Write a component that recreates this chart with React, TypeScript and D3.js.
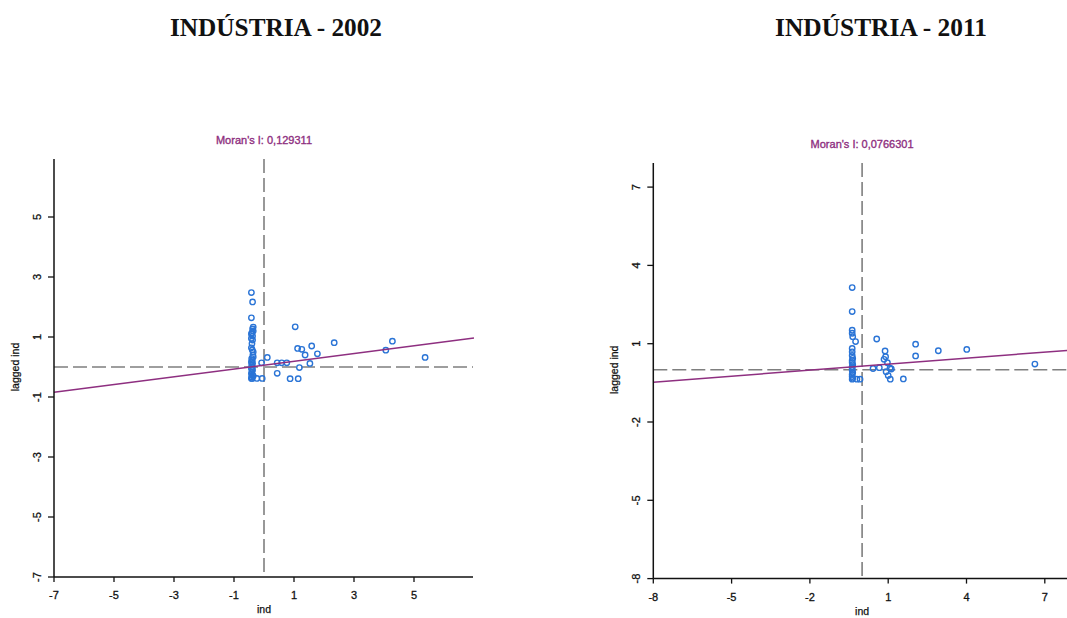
import React from "react";
import * as d3 from "d3";

// ---- data ----
const ind2002 = [-0.42,-0.38,-0.42,-0.36,-0.38,-0.40,-0.42,-0.38,-0.38,-0.42,-0.39,-0.37,-0.41,-0.39,-0.42,-0.38,-0.41,-0.39,-0.42,-0.38,-0.40,-0.42,-0.38,-0.41,-0.39,-0.42,-0.36,-0.40,-0.36,-0.36,-0.42,-0.36,-0.24,-0.06,-0.08,0.11,0.44,0.59,0.76,0.44,0.87,1.14,1.04,1.12,1.26,1.37,1.59,1.78,1.53,1.18,2.34,4.06,4.28,5.37];
const lag2002 = [2.48,2.17,1.64,1.33,1.27,1.14,1.10,1.03,0.90,0.64,0.57,0.40,0.28,0.22,0.17,0.12,0.06,0.00,-0.05,-0.10,-0.16,-0.22,-0.27,-0.33,-0.38,-0.38,0.50,0.78,-0.30,0.33,0.95,1.20,-0.38,-0.38,0.14,0.32,0.14,0.14,0.14,-0.21,-0.39,-0.39,1.34,0.62,0.59,0.40,0.70,0.44,0.12,-0.02,0.81,0.56,0.86,0.32];

const ind2011 = [-0.38,-0.38,-0.38,-0.38,-0.36,-0.25,-0.38,-0.38,-0.38,-0.36,-0.38,-0.38,-0.36,-0.38,-0.38,-0.38,-0.36,-0.38,-0.38,-0.36,-0.38,-0.20,-0.08,0.56,0.42,0.66,0.88,0.90,0.84,0.97,0.92,1.00,1.08,1.12,1.07,1.58,2.05,2.05,2.92,4.01,6.62];
const lag2011 = [3.15,2.23,1.52,1.40,1.27,1.08,0.82,0.69,0.55,0.44,0.36,0.28,0.20,0.12,0.06,-0.02,-0.10,-0.18,-0.26,-0.32,-0.36,-0.36,-0.36,1.18,0.05,0.08,0.72,0.50,0.40,0.27,-0.07,-0.22,-0.36,0.03,0.06,-0.35,0.98,0.53,0.73,0.78,0.22];

const ticks2002 = [-7, -5, -3, -1, 1, 3, 5];
const ticks2011 = [-8, -5, -2, 1, 4, 7];

const titles = ["INDÚSTRIA - 2002", "INDÚSTRIA - 2011"];
const moranI = ["0,129311", "0,0766301"];
const intercepts = [0.06, 0.14];

const PURPLE = "#8e2f80";
const BLUE = "#2a74d6";
const DASH = "#7f7f7f";
const SANS = "'Liberation Sans', Arial, sans-serif";

type PanelProps = {
  xs: number[]; ys: number[]; ticks: number[]; dom: [number, number];
  x0: number; x1: number; y0: number; y1: number;
  title: string; moran: string; slope: number; intercept: number;
  titleX: number; moranY: number; axisRight: number;
};

function Panel(p: PanelProps) {
  const x = d3.scaleLinear().domain(p.dom).range([p.x0, p.x1]);
  const y = d3.scaleLinear().domain(p.dom).range([p.y0, p.y1]);
  const line = d3.line<number>().x((d) => x(d)).y((d) => y(p.intercept + p.slope * d));
  const top = y(p.dom[1]) + 2;
  return (
    <g>
      <text x={p.titleX} y={36} textAnchor="middle" fontFamily="'Liberation Serif', 'Times New Roman', serif"
        fontWeight="bold" fontSize={25.5} textLength={212} lengthAdjust="spacingAndGlyphs" fill="#111">{p.title}</text>
      <text x={x(0)} y={p.moranY} textAnchor="middle" fontFamily={SANS}
        fontSize={11} fill={PURPLE} stroke={PURPLE} strokeWidth={0.35}>{"Moran's I: " + p.moran}</text>
      {/* dashed quadrant lines */}
      <line x1={x(0)} x2={x(0)} y1={top} y2={p.y0} stroke={DASH} strokeWidth={1.6} strokeDasharray="14,5" />
      <line x1={p.x0} x2={p.axisRight} y1={y(0)} y2={y(0)} stroke={DASH} strokeWidth={1.6} strokeDasharray="14,5" />
      {/* points */}
      {p.xs.map((v, i) => (
        <circle key={i} cx={x(v)} cy={y(p.ys[i])} r={2.7} fill="none" stroke={BLUE} strokeWidth={1.4} />
      ))}
      {/* regression line */}
      <path d={line(p.dom) || ""} stroke={PURPLE} strokeWidth={1.5} fill="none" />
      {/* axes */}
      <line x1={p.x0} x2={p.x0} y1={top} y2={p.y0} stroke="#111" strokeWidth={1.5} />
      <line x1={p.x0} x2={p.axisRight} y1={p.y0} y2={p.y0} stroke="#111" strokeWidth={1.5} />
      {p.ticks.map((t) => (
        <g key={"x" + t}>
          <line x1={x(t)} x2={x(t)} y1={p.y0} y2={p.y0 + 5} stroke="#111" strokeWidth={1.3} />
          <text x={x(t)} y={p.y0 + 22} textAnchor="middle" fontFamily={SANS} fontSize={11}
            fill="#111" stroke="#111" strokeWidth={0.3}>{t}</text>
        </g>
      ))}
      {p.ticks.map((t) => (
        <g key={"y" + t}>
          <line x1={p.x0 - 6} x2={p.x0} y1={y(t)} y2={y(t)} stroke="#111" strokeWidth={1.3} />
          <text transform={`translate(${p.x0 - 13},${y(t)}) rotate(-90)`} textAnchor="middle"
            fontFamily={SANS} fontSize={11} fill="#111" stroke="#111" strokeWidth={0.3}>{t}</text>
        </g>
      ))}
      <text x={x(0)} y={p.y0 + 36} textAnchor="middle" fontFamily={SANS} fontSize={10.5}
        fill="#111" stroke="#111" strokeWidth={0.25}>ind</text>
      <text transform={`translate(${p.x0 - 35},${y(0)}) rotate(-90)`} textAnchor="middle"
        fontFamily={SANS} fontSize={10.5} fill="#111" stroke="#111" strokeWidth={0.25}>lagged ind</text>
    </g>
  );
}

export default function App() {
  return (
    <svg width={1067} height={618} style={{ position: "absolute", left: 0, top: 0, background: "#fff" }}>
      <rect width={1067} height={618} fill="#fff" />
      <Panel xs={ind2002} ys={lag2002} ticks={ticks2002} dom={[-7, 7]}
        x0={54} x1={474} y0={577} y1={157} title={titles[0]} moran={moranI[0]}
        slope={0.129311} intercept={intercepts[0]} titleX={276} moranY={144} axisRight={473} />
      <Panel xs={ind2011} ys={lag2011} ticks={ticks2011} dom={[-8, 8]}
        x0={653.3} x1={1070.9} y0={578.6} y1={161} title={titles[1]} moran={moranI[1]}
        slope={0.0766301} intercept={intercepts[1]} titleX={881} moranY={148} axisRight={1067} />
    </svg>
  );
}
